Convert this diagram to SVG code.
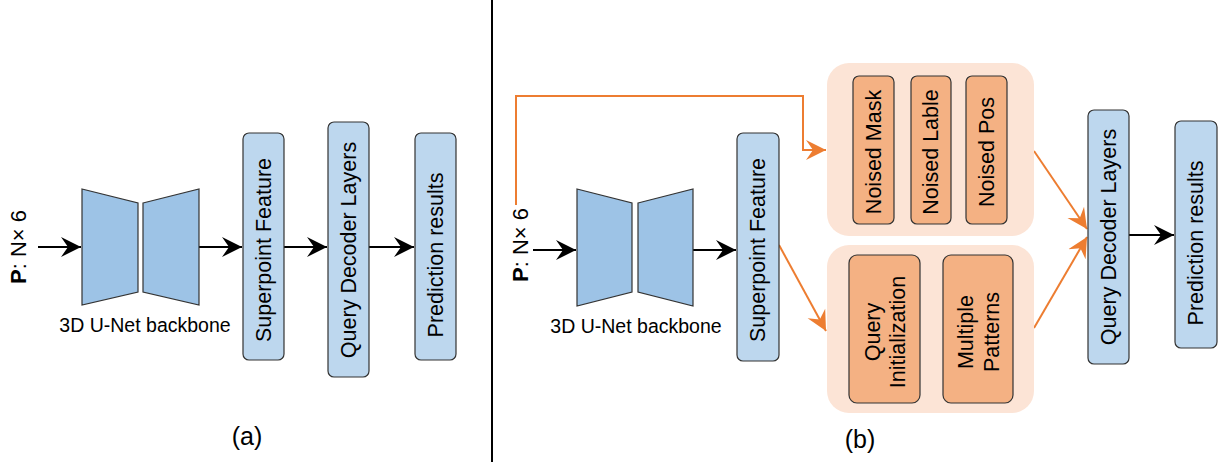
<svg xmlns="http://www.w3.org/2000/svg" width="1220" height="462" viewBox="0 0 1220 462">
<style>
text{font-family:"Liberation Sans",Arial,sans-serif;fill:#000}
.box{fill:#BDD7EE;stroke:#333;stroke-width:1.2}
.trap{fill:#9DC3E6;stroke:#333;stroke-width:1.2}
.grp{fill:#FCE4D6;stroke:none}
.inner{fill:#F4B183;stroke:#333;stroke-width:1.2}
.lbl{font-size:21.5px;text-anchor:middle;dominant-baseline:central}
.blk{stroke:#000;stroke-width:2;fill:none}
.org{stroke:#ED7D31;stroke-width:2;fill:none}
</style>
<defs>
<marker id="ab" markerUnits="userSpaceOnUse" markerWidth="24" markerHeight="24" viewBox="-20 -12 24 24" refX="0" refY="0" orient="auto">
<path d="M0,0 L-20,-10 L-13,0 L-20,10 Z" fill="#000"/>
</marker>
<marker id="ao" markerUnits="userSpaceOnUse" markerWidth="24" markerHeight="24" viewBox="-20 -12 24 24" refX="0" refY="0" orient="auto">
<path d="M0,0 L-20,-10 L-13,0 L-20,10 Z" fill="#ED7D31"/>
</marker>
</defs>

<line x1="492" y1="0" x2="492" y2="462" stroke="#000" stroke-width="2"/>

<g id="connectors">
<line class="blk" x1="38" y1="247" x2="81" y2="247" marker-end="url(#ab)"/>
<line class="blk" x1="199" y1="247" x2="242" y2="247" marker-end="url(#ab)"/>
<line class="blk" x1="284" y1="247" x2="327" y2="247" marker-end="url(#ab)"/>
<line class="blk" x1="369" y1="247" x2="414" y2="247" marker-end="url(#ab)"/>
<line class="blk" x1="533" y1="250" x2="576" y2="250" marker-end="url(#ab)"/>
<line class="blk" x1="693" y1="250" x2="736" y2="250" marker-end="url(#ab)"/>
<line class="blk" x1="1129" y1="235" x2="1174" y2="235" marker-end="url(#ab)"/>
<path class="org" d="M516,205 V96 H803 V150 H826" marker-end="url(#ao)"/>
<line class="org" x1="779" y1="245" x2="826" y2="331" marker-end="url(#ao)"/>
<line class="org" x1="1034" y1="151" x2="1087" y2="229" marker-end="url(#ao)"/>
<line class="org" x1="1034" y1="328" x2="1087" y2="237" marker-end="url(#ao)"/>
</g>

<!-- (a) -->
<g id="input-a">
<text transform="translate(18,247) rotate(-90)" text-anchor="middle" dominant-baseline="central" font-size="22"><tspan font-weight="bold">P</tspan>: N× 6</text>
</g>
<g id="backbone-a">
<polygon class="trap" points="82,189 138,203 138,292 82,305"/>
<polygon class="trap" points="143,203 199,189 199,305 143,292"/>
<text x="145" y="332" text-anchor="middle" font-size="19.5">3D U-Net backbone</text>
</g>
<g id="superpoint-a">
<rect class="box" x="243" y="133" width="41" height="227" rx="6"/>
<text class="lbl" transform="translate(264,250) rotate(-90)">Superpoint Feature</text>
</g>
<g id="decoder-a">
<rect class="box" x="328" y="122" width="41" height="255" rx="6"/>
<text class="lbl" transform="translate(349,250) rotate(-90)">Query Decoder Layers</text>
</g>
<g id="prediction-a">
<rect class="box" x="415" y="133" width="41" height="227" rx="6"/>
<text class="lbl" transform="translate(436,255) rotate(-90)">Prediction results</text>
</g>
<text x="247" y="445" text-anchor="middle" font-size="25">(a)</text>

<!-- (b) -->
<g id="input-b">
<text transform="translate(520,245) rotate(-90)" text-anchor="middle" dominant-baseline="central" font-size="22"><tspan font-weight="bold">P</tspan>: N× 6</text>
</g>
<g id="backbone-b">
<polygon class="trap" points="577,189 632,203 632,292 577,306"/>
<polygon class="trap" points="638,203 693,189 693,306 638,292"/>
<text x="636" y="333" text-anchor="middle" font-size="19.5">3D U-Net backbone</text>
</g>
<g id="superpoint-b">
<rect class="box" x="737" y="133" width="42" height="228" rx="6"/>
<text class="lbl" transform="translate(758,250) rotate(-90)">Superpoint Feature</text>
</g>
<g id="noise-group">
<rect class="grp" x="827" y="63" width="207" height="173" rx="22"/>
<g id="noised-mask">
<rect class="inner" x="853" y="76" width="41" height="148" rx="6"/>
<text class="lbl" transform="translate(874,152) rotate(-90)">Noised Mask</text>
</g>
<g id="noised-lable">
<rect class="inner" x="911" y="76" width="40" height="148" rx="6"/>
<text class="lbl" transform="translate(931,152) rotate(-90)">Noised Lable</text>
</g>
<g id="noised-pos">
<rect class="inner" x="966" y="76" width="41" height="148" rx="6"/>
<text class="lbl" transform="translate(987,152) rotate(-90)">Noised Pos</text>
</g>
</g>
<g id="query-group">
<rect class="grp" x="827" y="245" width="207" height="168" rx="22"/>
<g id="query-init">
<rect class="inner" x="849" y="255" width="71" height="148" rx="8"/>
<text class="lbl" transform="translate(873,332) rotate(-90)">Query</text>
<text class="lbl" transform="translate(898,332) rotate(-90)">Initialization</text>
</g>
<g id="multiple-patterns">
<rect class="inner" x="943" y="255" width="70" height="148" rx="8"/>
<text class="lbl" transform="translate(966,332) rotate(-90)">Multiple</text>
<text class="lbl" transform="translate(992,332) rotate(-90)">Patterns</text>
</g>
</g>
<g id="decoder-b">
<rect class="box" x="1088" y="110" width="41" height="254" rx="6"/>
<text class="lbl" transform="translate(1109,237) rotate(-90)">Query Decoder Layers</text>
</g>
<g id="prediction-b">
<rect class="box" x="1175" y="121" width="42" height="227" rx="6"/>
<text class="lbl" transform="translate(1196,243) rotate(-90)">Prediction results</text>
</g>
<text x="860" y="448" text-anchor="middle" font-size="25">(b)</text>
</svg>
